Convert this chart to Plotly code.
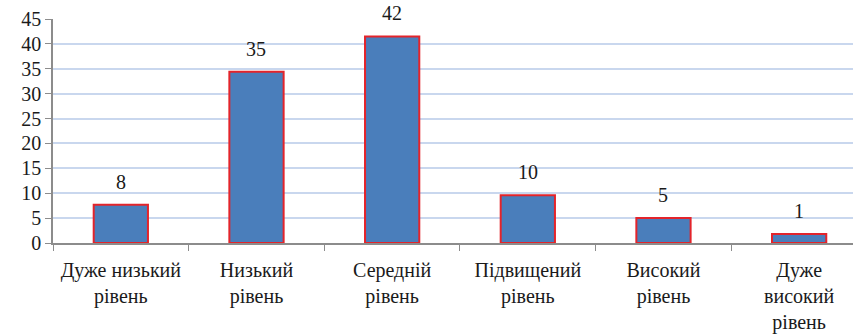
import plotly.graph_objects as go

categories = ["Дуже низький<br>рівень", "Низький<br>рівень", "Середній<br>рівень",
              "Підвищений<br>рівень", "Високий<br>рівень", "Дуже<br>високий<br>рівень"]
values = [7.7, 34.4, 41.5, 9.6, 5.0, 1.8]
value_labels = ["8", "35", "42", "10", "5", "1"]
y_ticks = [0, 5, 10, 15, 20, 25, 30, 35, 40, 45]

FONT = "Times New Roman, Liberation Serif, DejaVu Serif, serif"

fig = go.Figure()
fig.add_trace(go.Bar(
    x=categories, y=values, width=0.4,
    marker=dict(color="#4a7ebb", line=dict(color="#e3242b", width=2)),
    hoverinfo="skip",
))

for c, v, t in zip(categories, values, value_labels):
    fig.add_annotation(x=c, y=v, text=t, showarrow=False, yanchor="bottom",
                       yshift=10, font=dict(family=FONT, size=20, color="#1a1a1a"))

fig.update_layout(
    width=853, height=335,
    margin=dict(l=53, r=0, t=19, b=92),
    paper_bgcolor="white", plot_bgcolor="white",
    showlegend=False, bargap=0.6,
    font=dict(family=FONT, size=20, color="#1a1a1a"),
)
fig.update_xaxes(
    type="category", range=[-0.5, 5.397],
    showline=True, linecolor="#8c8c8c", linewidth=1.5,
    ticks="outside", tickson="boundaries", ticklen=6, tickcolor="#8c8c8c",
    showgrid=False, ticklabelstandoff=8,
    tickfont=dict(family=FONT, size=20, color="#1a1a1a"),
)
fig.update_yaxes(
    range=[0, 45], tickvals=y_ticks,
    showline=True, linecolor="#8c8c8c", linewidth=1.5,
    ticks="outside", ticklen=6, tickcolor="#8c8c8c",
    showgrid=True, gridcolor="#c9d7ee", gridwidth=1.5,
    zeroline=False,
    tickfont=dict(family=FONT, size=20, color="#1a1a1a"),
)

fig.write_html("out.html")
